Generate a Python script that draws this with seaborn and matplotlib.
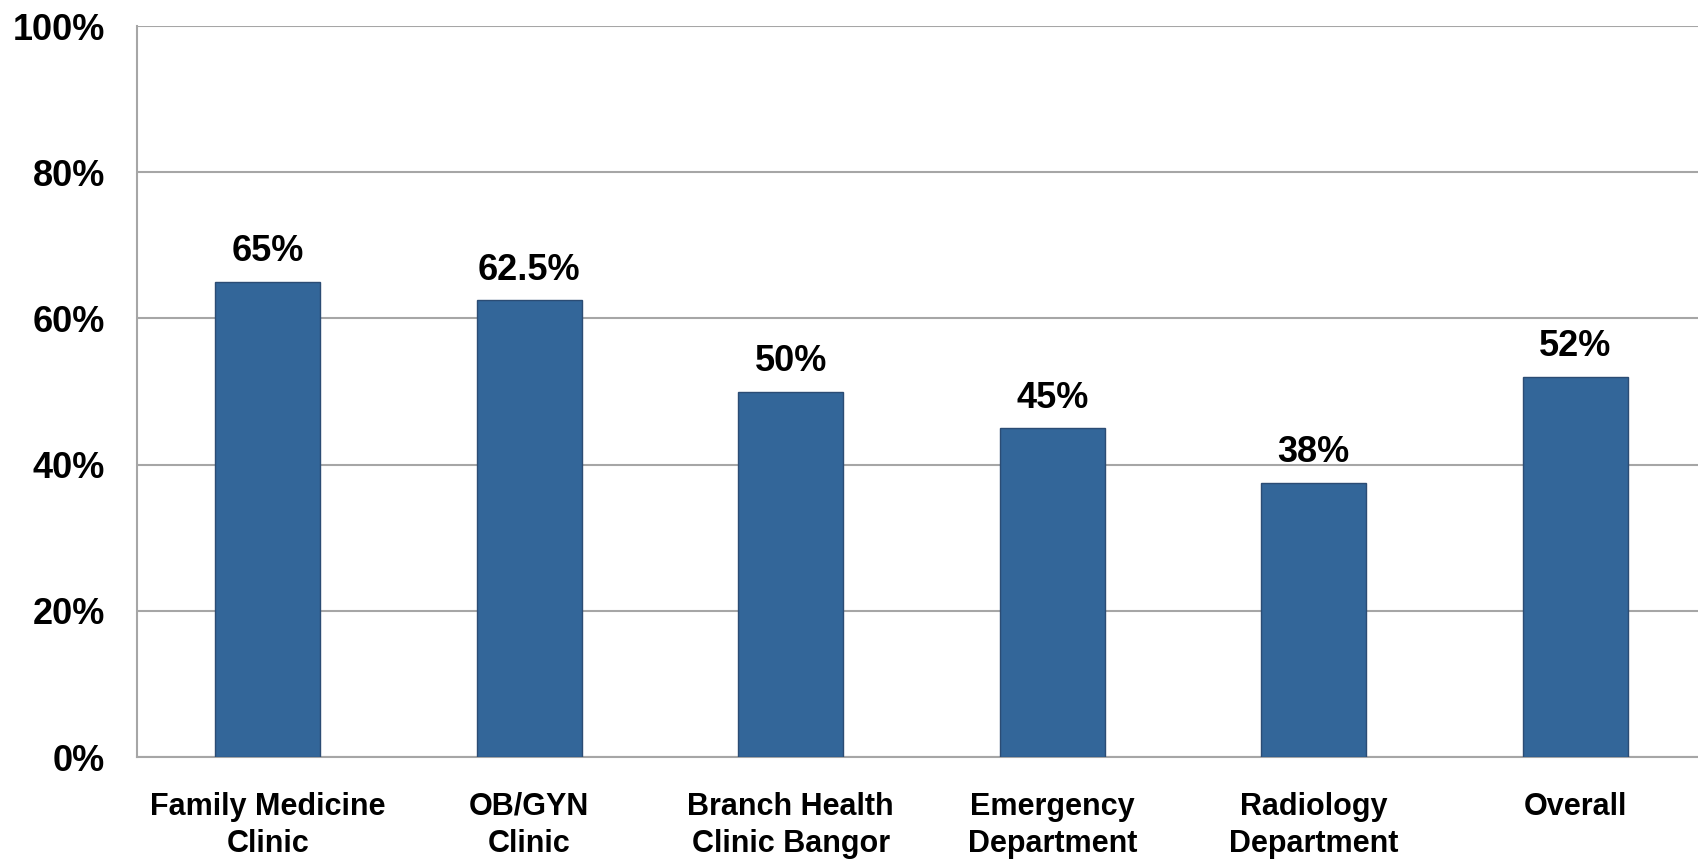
import matplotlib
matplotlib.use("Agg")
import matplotlib.pyplot as plt
import seaborn as sns
import pandas as pd
from matplotlib.ticker import FuncFormatter

# ---------------------------------------------------
# DATA
# ---------------------------------------------------

categories = [
    "Family Medicine\nClinic",
    "OB/GYN\nClinic",
    "Branch Health\nClinic Bangor",
    "Emergency\nDepartment",
    "Radiology\nDepartment",
    "Overall"
]

values = [65, 62.5, 50, 45, 37.5, 52]

value_labels = ["65%", "62.5%", "50%", "45%", "38%", "52%"]

y_ticks = [0, 20, 40, 60, 80, 100]

df = pd.DataFrame({
    "Unit": categories,
    "Percent": values
})

# ---------------------------------------------------
# STYLE
# ---------------------------------------------------

sns.set_style("white")
plt.rcParams["font.family"] = ["Liberation Sans", "DejaVu Sans"]
plt.rcParams["font.weight"] = "bold"
plt.rcParams["text.color"] = "black"
plt.rcParams["xtick.color"] = "black"
plt.rcParams["ytick.color"] = "black"

bar_color = "#336699"
grid_color = "#a6a6a6"

fig = plt.figure(figsize=(16.98, 8.59), dpi=100)
ax = fig.add_axes([0.0807, 0.1187, 0.924, 0.851])

# ---------------------------------------------------
# BAR CHART
# ---------------------------------------------------

sns.barplot(
    data=df,
    x="Unit",
    y="Percent",
    color=bar_color,
    saturation=1,
    width=0.4,
    edgecolor="#2b4c74",
    linewidth=1,
    ax=ax,
    zorder=3
)

ax.bar_label(
    ax.containers[0],
    labels=value_labels,
    padding=9,
    fontsize=26,
    fontweight="bold",
    color="black"
)

# ---------------------------------------------------
# AXES
# ---------------------------------------------------

ax.set_ylim(0, 100)
ax.set_xlim(-0.5, len(categories) - 0.5)
ax.set_yticks(y_ticks)
ax.yaxis.set_major_formatter(FuncFormatter(lambda v, p: f"{v:.0f}%"))

ax.yaxis.grid(True, color=grid_color, linewidth=1.5, zorder=0)
ax.set_axisbelow(True)

ax.tick_params(axis="y", labelsize=26, pad=23, length=0, labelcolor="black")
ax.tick_params(axis="x", labelsize=22, pad=25, length=0, labelcolor="black")

for lab in ax.get_xticklabels():
    lab.set_fontweight("bold")
    lab.set_linespacing(1.3)
for lab in ax.get_yticklabels():
    lab.set_fontweight("bold")

ax.set_xlabel("")
ax.set_ylabel("")

for side in ["top", "right"]:
    ax.spines[side].set_visible(False)
for side in ["left", "bottom"]:
    ax.spines[side].set_color(grid_color)
    ax.spines[side].set_linewidth(1.5)

fig.savefig("out.png", dpi=100)
